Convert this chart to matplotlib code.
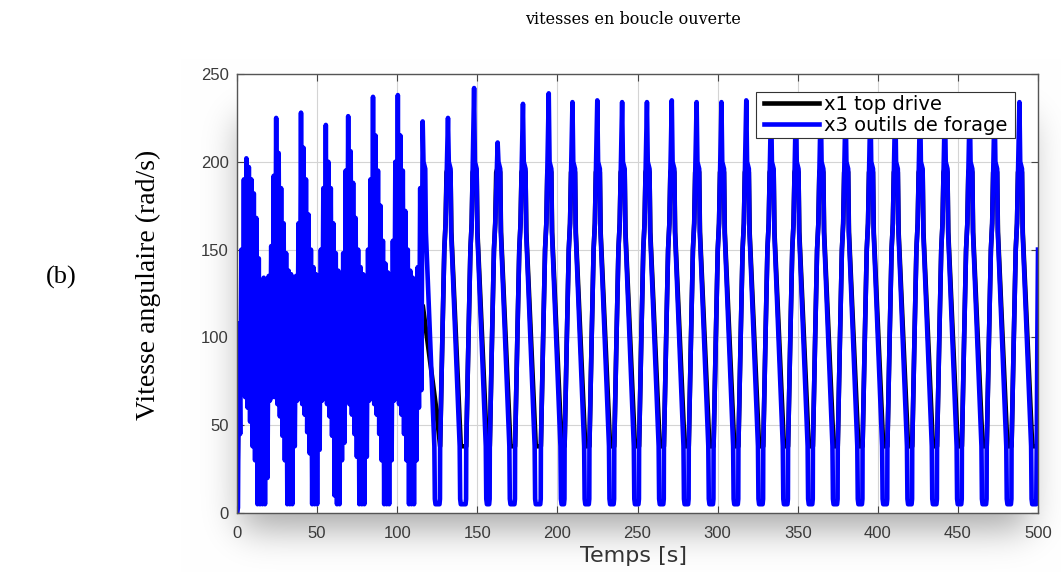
import matplotlib
matplotlib.use('Agg')
import matplotlib.pyplot as plt
from matplotlib.patches import Rectangle
import numpy as np

# --- x3 : vitesse de l'outil de forage ---
# démarrage
start_t = [0.0, 0.6]
start_v = [0.0, 3.0]

# oscillation rapide du début : une crête puis un creux toutes les 0.775 s à partir de 1.2 s
fast_t0 = 1.2
fast_half = 0.775
fast_hi = [108, 150, 190, 202, 197, 190, 182, 168, 145, 132,
           134, 133, 135, 152, 192, 225, 205, 185, 165, 148,
           138, 136, 134, 135, 165, 228, 208, 190, 170, 150,
           140, 136, 135, 150, 185, 221, 200, 185, 165, 148,
           138, 135, 148, 195, 226, 206, 188, 168, 150, 140,
           136, 135, 150, 190, 237, 215, 195, 175, 155, 142,
           137, 135, 155, 200, 238, 215, 195, 172, 150, 138,
           134, 130, 140, 185, 223]
fast_lo = [45, 70, 66, 60, 52, 38, 30, 5, 5, 5,
           5, 20, 64, 66, 66, 62, 55, 44, 30, 5,
           5, 5, 38, 64, 66, 62, 56, 46, 34, 5,
           5, 5, 36, 64, 66, 62, 55, 44, 10, 5,
           5, 30, 40, 64, 62, 56, 45, 32, 5, 5,
           5, 32, 64, 66, 62, 56, 45, 30, 5, 5,
           5, 30, 64, 66, 62, 56, 45, 30, 5, 5,
           5, 30, 60, 70]

# cycles de stick-slip : instant et valeur de chaque pic
peak_t = [115.9, 131.7, 148.0, 162.7, 178.5, 194.6, 209.4, 224.9, 240.4,
          255.9, 271.4, 286.9, 302.4, 317.9, 333.4, 348.9, 364.4, 379.9,
          395.4, 410.9, 426.4, 441.9, 457.4, 472.9, 488.4]
peak_v = [223, 225, 242, 211, 233, 239, 234, 235, 234, 234, 235, 234, 234,
          235, 234, 234, 235, 234, 234, 235, 234, 234, 235, 234, 234]

# descente après un pic (décalage en s, valeur)
fall_dt = [0.5, 1.6, 2.0, 7.3, 7.6, 8.0]
fall_v = [200, 196, 160, 38, 8, 5]
# remontée avant le pic suivant
rise_dt = [-5.3, -5.0, -4.9, -3.5, -2.3, -1.5]
rise_v = [5, 8, 38, 100, 150, 165]

# fin de l'enregistrement
end_t = [498.9, 499.2, 499.6, 500.0]
end_v = [5, 38, 100, 150]

# --- x1 : vitesse du top drive (presque partout sous x3) ---
x1_start_t = [0.0, 1.6, 12, 30, 50, 70, 90, 110, 116, 124]
x1_start_v = [0, 108, 98, 104, 99, 103, 98, 101, 118, 62]
x1_rise_dt = [-4.9, -3.5, -2.3, -1.5, -0.9]
x1_rise_v = [38, 100, 150, 165, 194]
x1_fall_dt = [0.5, 1.6, 2.1, 8.0]
x1_fall_v = [198, 194, 160, 38]
x1_end_t = [499.3, 500.0]
x1_end_v = [38, 60]


# construction de x3
t3 = list(start_t)
v3 = list(start_v)
for j, hi in enumerate(fast_hi):
    t3.append(fast_t0 + 2 * j * fast_half)
    v3.append(hi)
    if j < len(fast_lo):
        t3.append(fast_t0 + (2 * j + 1) * fast_half)
        v3.append(fast_lo[j])
for i, (tp, vp) in enumerate(zip(peak_t, peak_v)):
    if i > 0:
        t3.append(tp)
        v3.append(vp)
    t3 += [tp + d for d in fall_dt]
    v3 += fall_v
    if i + 1 < len(peak_t):
        t3 += [peak_t[i + 1] + d for d in rise_dt]
        v3 += rise_v
t3 += end_t
v3 += end_v

# construction de x1
t1 = list(x1_start_t)
v1 = list(x1_start_v)
for tp in peak_t[1:]:
    t1 += [tp + d for d in x1_rise_dt]
    v1 += x1_rise_v
    t1 += [tp + d for d in x1_fall_dt]
    v1 += x1_fall_v
t1 += x1_end_t
v1 += x1_end_v


W, H = 1061, 572
fig = plt.figure(figsize=(W / 100, H / 100), dpi=100)
ax_box = [237, 74, 1038, 513]  # gauche, haut, droite, bas en pixels
ax = fig.add_axes([ax_box[0] / W, 1 - ax_box[3] / H,
                   (ax_box[2] - ax_box[0]) / W, (ax_box[3] - ax_box[1]) / H])
ax.set_zorder(2)

# ombre douce sous le cadre
mask = np.zeros((H, W))
mask[ax_box[1] + 45:ax_box[3] + 16, ax_box[0] + 4:ax_box[2] - 10] = 1.0
k = np.arange(-60, 61)
kern = np.exp(-0.5 * (k / 18.0) ** 2)
kern /= kern.sum()
mask = np.apply_along_axis(lambda r: np.convolve(r, kern, mode='same'), 1, mask)
mask = np.apply_along_axis(lambda c: np.convolve(c, kern, mode='same'), 0, mask)
shade = 1 - 0.34 * mask
fig.figimage(np.dstack([shade, shade, shade]), 0, 0, origin='upper', zorder=0)

ax.plot(t1, v1, color='black', lw=3.3, label='x1 top drive')
ax.plot(t3, v3, color='#0000ff', lw=3.3, label='x3 outils de forage')

ax.set_xlim(0, 500)
ax.set_ylim(0, 250)
ax.set_xticks(range(0, 501, 50))
ax.set_yticks(range(0, 251, 50))
ax.grid(True, color='#d4d4d4', lw=0.8)
ax.set_axisbelow(True)
ax.tick_params(direction='in', top=True, right=True, length=5, width=0.8,
               labelsize=12, labelcolor='#3a3a3a', color='#444444')
ax.tick_params(axis='x', pad=9)
ax.tick_params(axis='y', pad=6)
for lab in ax.get_xticklabels() + ax.get_yticklabels():
    lab.set_family('Liberation Sans')
for sp in ax.spines.values():
    sp.set_color('#555555')
    sp.set_linewidth(1.0)

# cadre de la légende (marges horizontales plus larges que verticales)
axw = ax_box[2] - ax_box[0]
axh = ax_box[3] - ax_box[1]
ax.add_patch(Rectangle(((756 - ax_box[0]) / axw, (ax_box[3] - 138) / axh),
                       (1015 - 756) / axw, 46 / axh, transform=ax.transAxes,
                       facecolor='white', edgecolor='#333333', lw=0.8, zorder=4.5))
leg = ax.legend(loc='upper right', bbox_to_anchor=((1007 - ax_box[0]) / axw, (ax_box[3] - 95) / axh),
                borderaxespad=0, frameon=False,
                prop={'family': 'DejaVu Sans', 'size': 14}, handlelength=2.8,
                borderpad=0.0, labelspacing=0.1, handletextpad=0.25)
leg.set_zorder(5)

fig.text(633 / W, 1 - 20 / H, 'vitesses en boucle ouverte', ha='center', va='center',
         family='DejaVu Serif', fontsize=11.5, zorder=3)
fig.text(148 / W, 1 - 285 / H, 'Vitesse angulaire (rad/s)', ha='center', va='center',
         rotation=90, family='Liberation Serif', fontsize=20, zorder=3)
fig.text(61 / W, 1 - 277 / H, '(b)', ha='center', va='center',
         family='Liberation Serif', fontsize=19, zorder=3)
fig.text(634 / W, 1 - 556 / H, 'Temps [s]', ha='center', va='center',
         family='DejaVu Sans', fontsize=16, color='#333333', zorder=3)

fig.savefig('out.png', dpi=100)
